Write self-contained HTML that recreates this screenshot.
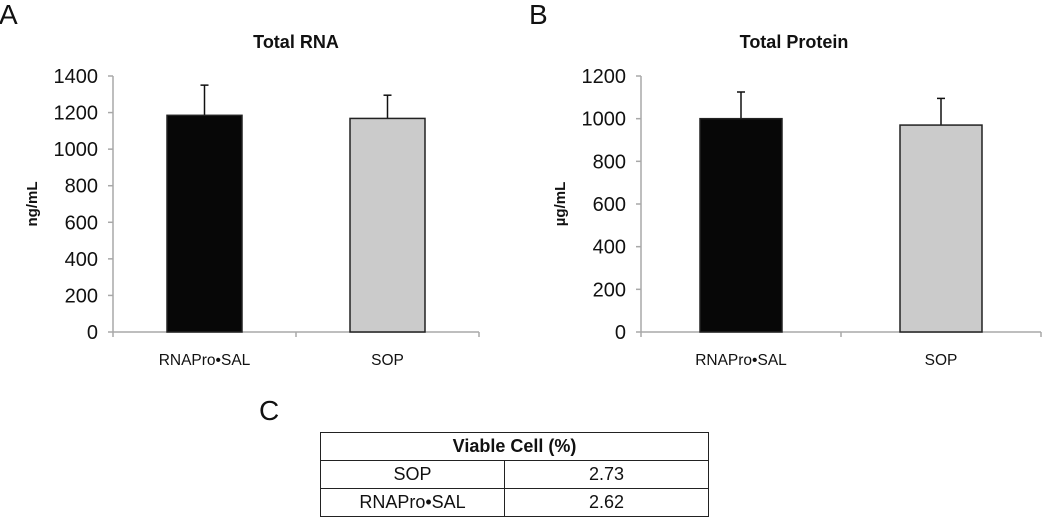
<!DOCTYPE html>
<html><head><meta charset="utf-8"><style>
body{margin:0;background:#fff;width:1050px;height:520px;overflow:hidden;font-family:"Liberation Sans",Arial,sans-serif}
svg{position:absolute;left:0;top:0}
table{position:absolute;left:320px;top:432px;width:389px;border-collapse:collapse;font-size:18px}
td{border:1.5px solid #222;text-align:center;height:27px;padding:0;color:#111}
</style></head><body>
<svg id="s" width="1050" height="520">
<text x="-1" y="24" font-size="28" fill="#111">A</text>
<text x="529" y="24" font-size="28" fill="#111">B</text>
<text x="259" y="420" font-size="28" fill="#111">C</text>
</svg>
<table>
<tr><td colspan="2" style="font-weight:bold">Viable Cell (%)</td></tr>
<tr><td style="width:183px">SOP</td><td>2.73</td></tr>
<tr><td>RNAPro•SAL</td><td>2.62</td></tr>
</table>
<script>
const categories=["RNAPro•SAL","SOP"];
const rnaValues=[1185,1168];
const rnaErrors=[165,127];
const rnaTicks=[0,200,400,600,800,1000,1200,1400];
const proteinValues=[1000,970];
const proteinErrors=[125,125];
const proteinTicks=[0,200,400,600,800,1000,1200];
const colors=["#070707","#cbcbcb"];
const NS="http://www.w3.org/2000/svg";
const svg=document.getElementById('s');
function el(t,a,txt){const e=document.createElementNS(NS,t);for(const k in a)e.setAttribute(k,a[k]);if(txt!=null)e.textContent=txt;svg.appendChild(e);return e;}
function chart(p,key,title,ylab,vals,errs,ticks){
 const max=ticks[ticks.length-1];
 const y=v=>p.y0-(v/max)*(p.y0-p.yTop);
 const cw=(p.x1-p.x0)/categories.length;
 let e=el('text',{x:(p.x0+p.x1)/2+p.tdx,y:48,'font-size':18,'font-weight':'bold','text-anchor':'middle',fill:'#111'},title);
 
 e=el('text',{transform:`translate(${p.x0-76},${(p.y0+p.yTop)/2}) rotate(-90)`,'font-size':15,'font-weight':'bold','text-anchor':'middle',fill:'#111'},ylab);
 
 e=el('line',{x1:p.x0,y1:p.yTop,x2:p.x0,y2:p.y0,stroke:'#a8a8a8','stroke-width':1.5});
 
 ticks.forEach(t=>{
  const ty=y(t);
  let l=el('line',{x1:p.x0-5,y1:ty,x2:p.x0,y2:ty,stroke:'#a8a8a8','stroke-width':1.5});
  
  let tx=el('text',{x:p.x0-15,y:ty+7,'font-size':20,'text-anchor':'end',fill:'#111'},t);
  
 });
 e=el('line',{x1:p.x0,y1:p.y0,x2:p.x1,y2:p.y0,stroke:'#a8a8a8','stroke-width':1.5});
 
 for(let i=0;i<=categories.length;i++){
  let l=el('line',{x1:p.x0+i*cw,y1:p.y0,x2:p.x0+i*cw,y2:p.y0+5,stroke:'#a8a8a8','stroke-width':1.5});
  
 }
 categories.forEach((c,i)=>{
  const cx=p.x0+cw*(i+0.5);
  const bx=cx-p.bw/2;
  let er=el('line',{x1:cx,y1:y(vals[i]+errs[i]),x2:cx,y2:y(vals[i]),stroke:'#111','stroke-width':1.5});
  
  let cap=el('line',{x1:cx-4,y1:y(vals[i]+errs[i]),x2:cx+4,y2:y(vals[i]+errs[i]),stroke:'#111','stroke-width':1.5});
  
  let r=el('rect',{x:bx,y:y(vals[i]),width:p.bw,height:p.y0-y(vals[i]),fill:colors[i],stroke:'#222','stroke-width':1.5});
  
  let t=el('text',{x:cx,y:p.y0+33,'font-size':15.5,'text-anchor':'middle',fill:'#111'},c);
  
 });
}
chart({x0:113,x1:479,y0:332,yTop:76,bw:75,tdx:0},'rna','Total RNA','ng/mL',rnaValues,rnaErrors,rnaTicks);
chart({x0:641,x1:1041,y0:332,yTop:76,bw:82,tdx:-47},'protein','Total Protein','µg/mL',proteinValues,proteinErrors,proteinTicks);
</script>
</body></html>
